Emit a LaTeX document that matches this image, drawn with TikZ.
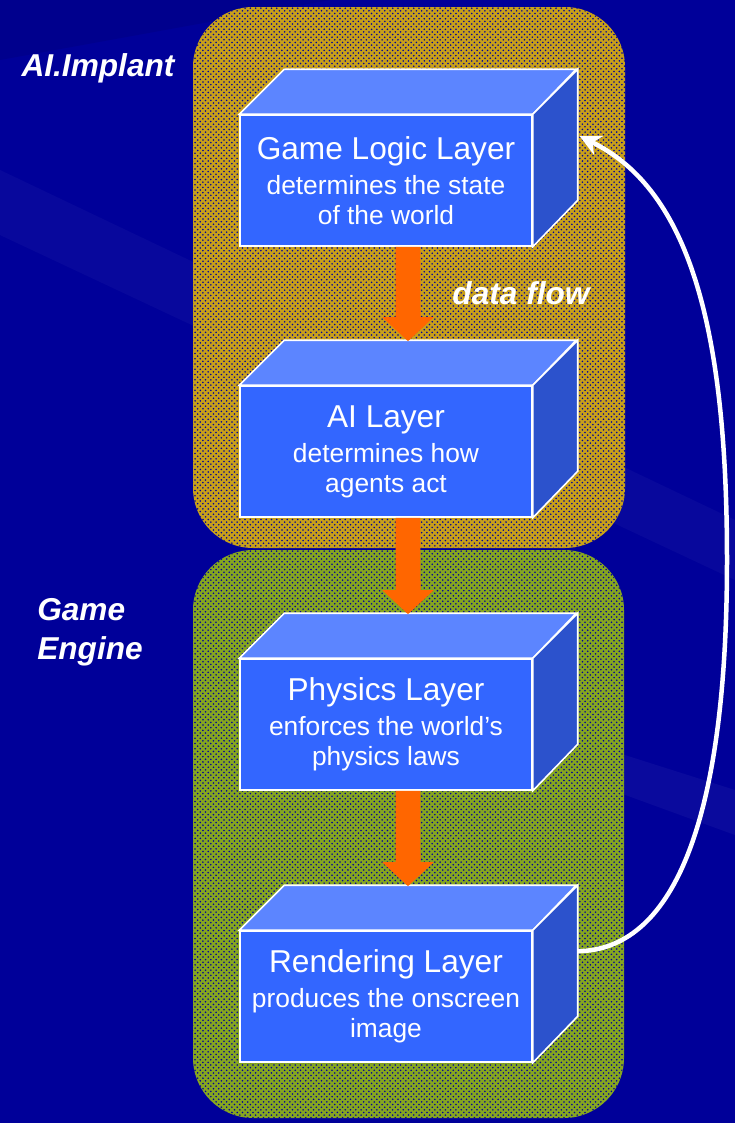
\documentclass[tikz,border=0pt]{standalone}
\usepackage{fontspec}
\setmainfont{Liberation Sans}
\usepackage{xcolor}
\usetikzlibrary{arrows.meta,patterns}

\definecolor{bgnavy}{HTML}{000099}
\definecolor{faceblue}{HTML}{3366FF}
\definecolor{topblue}{HTML}{5C85FF}
\definecolor{sideblue}{HTML}{2C52CC}
\definecolor{flowred}{HTML}{FF6600}
\definecolor{implantgold}{HTML}{C8A01A}
\definecolor{enginegreen}{HTML}{86A620}

\newcommand{\layertitle}[1]{{\fontsize{18}{22}\selectfont #1}}

\tikzset{
  layer/.style={draw=white, line width=0.9pt, fill=faceblue, text=white,
    minimum width=5.84cm, minimum height=2.62cm, align=center, inner sep=0pt,
    font=\fontsize{15}{17}\selectfont},
  topface/.style={fill=topblue, draw=white, line width=0.9pt},
  sideface/.style={fill=sideblue, draw=white, line width=0.9pt},
  flow/.style={draw=flowred, line width=0.5cm, -{Triangle[length=0.48cm,width=1cm]}},
  feedback/.style={draw=white, line width=0.09cm, -{Stealth[length=0.42cm,width=0.42cm]}},
  region/.style={rounded corners=1.2cm},
  sidelabel/.style={text=white, font=\bfseries\itshape\fontsize{18}{20}\selectfont},
}

\begin{document}
\begin{tikzpicture}[x=0.02cm, y=-0.02cm]

  % -- background ---------------------------------------------------------
  \useasboundingbox (0,0) rectangle (735,1123);
  \fill[bgnavy] (0,0) rectangle (735,1123);
  \fill[white, opacity=0.03] (0,170) -- (735,520) -- (735,580) -- (0,235) -- cycle;
  \fill[white, opacity=0.04] (420,690) -- (735,790) -- (735,835) -- (420,720) -- cycle;
  \fill[black, opacity=0.08] (0,0) -- (330,0) -- (0,60) -- cycle;

  % -- the two regions ----------------------------------------------------
  \fill[region, implantgold] (193,7) rectangle (625,548);
  \fill[region, pattern=crosshatch dots, pattern color=bgnavy] (193,7) rectangle (625,548);
  \fill[region, enginegreen] (193,550) rectangle (624,1118);
  \fill[region, pattern=crosshatch dots, pattern color=bgnavy] (193,550) rectangle (624,1118);

  % -- layers -------------------------------------------------------------
  \node[layer] (gl) at (386,180.5) {\layertitle{Game Logic Layer}\\[3pt]determines the state\\of the world};
  \node[layer] (ai) at (386,451.5) {\layertitle{AI Layer}\\[3pt]determines how\\agents act};
  \node[layer] (ph) at (386,724.5) {\layertitle{Physics Layer}\\[3pt]enforces the world’s\\physics laws};
  \node[layer] (rl) at (386,996.5) {\layertitle{Rendering Layer}\\[3pt]produces the onscreen\\image};

  \foreach \n in {gl,ai,ph,rl} {
    \filldraw[topface] (\n.north west) -- ++(45,-45) -- ++(292,0) -- (\n.north east) -- cycle;
    \filldraw[sideface] (\n.north east) -- ++(45,-45) -- ++(0,131) -- (\n.south east) -- cycle;
  }

  % -- data flow arrows ---------------------------------------------------
  \draw[flow] ([xshift=0.44cm]gl.south) -- ([shift={(22,-44)}]ai.north);
  \draw[flow] ([xshift=0.44cm]ai.south) -- ([shift={(22,-44)}]ph.north);
  \draw[flow] ([xshift=0.44cm]ph.south) -- ([shift={(22,-44)}]rl.north);

  % -- loop back from rendering to game logic -----------------------------
  \coordinate (rlside) at ([shift={(45,21)}]rl.north east);
  \coordinate (glside) at ([shift={(47,22)}]gl.north east);
  \draw[feedback] (rlside) .. controls (670,950) and (727,830) .. (727,560)
    .. controls (727,330) and (690,190) .. (glside);

  % -- labels -------------------------------------------------------------
  \node[sidelabel] (implant) at (98,68) {AI.Implant};
  \node[sidelabel, align=left] (engine) at (90,632) {Game\\[2pt]Engine};
  \node[sidelabel] (flowlabel) at (521,293) {data flow};

\end{tikzpicture}
\end{document}
